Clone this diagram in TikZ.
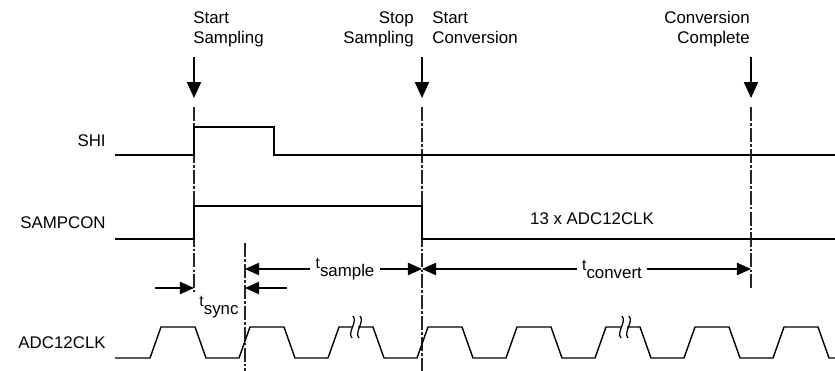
\documentclass[tikz,border=0pt]{standalone}
\usepackage{fontspec}
\setmainfont{Liberation Sans}
\usepackage{tikz}
\usetikzlibrary{arrows.meta,positioning,calc}

\tikzset{
  sig/.style={line width=0.8pt},
  evline/.style={line width=0.65pt, black!85, dash pattern=on 8pt off 1.2pt on 1.5pt off 1.2pt},
  evarrow/.style={line width=0.7pt, -{Triangle[length=9pt,width=8pt]}},
  dimarrow/.style={line width=0.7pt, -{Triangle[length=8pt,width=7pt]}},
  lbl/.style={font=\fontsize{9.6}{11.5}\selectfont, inner sep=0pt},
}
\newcommand{\tlabel}[1]{\raisebox{0.45ex}{\small t}\raisebox{-0.45ex}{#1}}

\begin{document}
\begin{tikzpicture}[x=0.02cm, y=-0.02cm]
  \useasboundingbox (0,0) rectangle (835,371);
  % event labels
  \node[lbl, align=left, anchor=north west] (startS) at (193,11) {Start\\Sampling};
  \node[lbl, align=right, anchor=north east] (stopS) at (414,11) {Stop\\Sampling};
  \node[lbl, align=left, anchor=north west] (startC) at (432,11) {Start\\Conversion};
  \node[lbl, align=right, anchor=north east] (convC) at (750,11) {Conversion\\Complete};
  % event arrows and markers
  \foreach \n/\x/\e in {ss/194/292, sc/422/371, cc/751/288} {
    \coordinate (\n T) at (\x,57);
    \coordinate (\n P) at (\x,98);
    \coordinate (\n A) at (\x,107);
    \coordinate (\n B) at (\x,\e);
    \draw[evarrow] (\n T) -- (\n P);
    \draw[evline] (\n A) -- (\n B);
  }
  \coordinate (syA) at (245,243);
  \coordinate (syB) at (245,371);
  \draw[evline] (syA) -- (syB);

  % signals
  \node[lbl, anchor=east] (shi) at (106,141) {SHI};
  \draw[sig] (115,155) -- (194,155) -- (194,127) -- (274,127) -- (274,155) -- (835,155);
  \node[lbl, anchor=east] (sampcon) at (106,223) {SAMPCON};
  \draw[sig] (115,239) -- (194,239) -- (194,206) -- (422,206) -- (422,239) -- (835,239);
  \node[lbl] (nclk) at (592,219) {13 x ADC12CLK};

  % timing
  \node[lbl, inner sep=3pt] (tsample) at (345,269) {\tlabel{sample}};
  \draw[dimarrow] (tsample) -- (tsample -| syA);
  \draw[dimarrow] (tsample) -- (tsample -| scA);
  \node[lbl, inner sep=3pt] (tconvert) at (612,269) {\tlabel{convert}};
  \draw[dimarrow] (tconvert) -- (tconvert -| scA);
  \draw[dimarrow] (tconvert) -- (tconvert -| ccA);
  \coordinate (syL) at (155,288);
  \coordinate (syR) at (287,288);
  \draw[dimarrow] (syL) -- (syL -| ssA);
  \draw[dimarrow] (syR) -- (syR -| syA);
  \node[lbl] (tsync) at (219,307) {\tlabel{sync}};

  % clock
  \node[lbl, anchor=east] (clk) at (106,343) {ADC12CLK};
  \begin{scope}
    \clip (0,0) rectangle (835,371);
    \draw[sig, line join=round] (115,358) -- (150,358)
      \foreach \k in {0,...,7} { -- ++(11,-31) -- ++(34,0) -- ++(11,31) -- ++(33,0) };
  \end{scope}
  \foreach \x in {352,621} {
    \fill[white] (\x+1,322) rectangle (\x+6,332);
    \draw[line width=0.7pt] (\x+1,316) .. controls (\x+6,322) and (\x-5,332) .. (\x,338);
    \draw[line width=0.7pt] (\x+8,316) .. controls (\x+13,322) and (\x+2,332) .. (\x+7,338);
  }
\end{tikzpicture}
\end{document}
